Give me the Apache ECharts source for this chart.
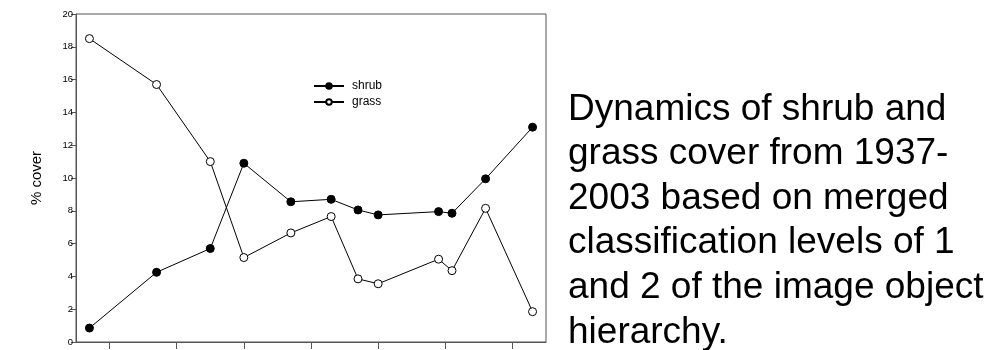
<!DOCTYPE html>
<html>
<head>
<meta charset="utf-8">
<script src="https://cdn.jsdelivr.net/npm/echarts@6/dist/echarts.min.js"></script>
<style>html,body{margin:0;padding:0;background:#fff;}#c{width:985px;height:350px;}</style>
</head>
<body>
<div id="c"></div>
<script>
const years = [1937, 1947, 1955, 1960, 1967, 1973, 1977, 1980, 1989, 1991, 1996, 2003];
const shrub = [0.85, 4.25, 5.7, 10.9, 8.55, 8.7, 8.05, 7.75, 7.95, 7.85, 9.95, 13.1];
const grass = [18.5, 15.7, 11.0, 5.15, 6.65, 7.65, 3.85, 3.55, 5.05, 4.35, 8.15, 1.85];
const xTicks = [1940, 1950, 1960, 1970, 1980, 1990, 2000];
const yTicks = [0, 2, 4, 6, 8, 10, 12, 14, 16, 18, 20];
const caption = ['Dynamics of shrub and', 'grass cover from 1937-', '2003 based on merged', 'classification levels of 1', 'and 2 of the image object', 'hierarchy.'];

const chart = echarts.init(document.getElementById('c'), null, {renderer: 'canvas'});
const font = '"Liberation Sans", Arial, sans-serif';
chart.setOption({
  animation: false,
  backgroundColor: '#fff',
  grid: {left: 76, right: 439, top: 14, bottom: 8, show: true, borderColor: '#555', borderWidth: 1},
  legend: {
    orient: 'vertical', left: 313, top: 80, padding: 0, itemWidth: 30, itemHeight: 7, itemGap: 4,
    textStyle: {fontFamily: font, fontSize: 12, color: '#000', padding: [0, 0, 0, 3]},
    data: ['shrub', 'grass']
  },
  xAxis: {
    type: 'value', min: 1935, max: 2005,
    axisLine: {lineStyle: {color: '#555', width: 1}},
    axisTick: {show: true, inside: false, length: 7, customValues: xTicks, lineStyle: {color: '#555'}},
    axisLabel: {show: false},
    splitLine: {show: false}
  },
  yAxis: {
    type: 'value', min: 0, max: 20, interval: 2,
    name: '% cover', nameLocation: 'middle', nameGap: 32,
    nameTextStyle: {fontFamily: font, fontSize: 15, color: '#000'},
    axisLine: {show: true, lineStyle: {color: '#555', width: 1}},
    axisTick: {show: true, inside: false, length: 5, lineStyle: {color: '#555'}},
    axisLabel: {fontFamily: font, fontSize: 9.5, color: '#000', margin: 3, customValues: yTicks},
    splitLine: {show: false}
  },
  graphic: [{
    type: 'text', left: 568, top: 87,
    style: {text: caption.join('\n'), font: '37px ' + font, fill: '#000', lineHeight: 44.6}
  }],
  series: [
    {
      name: 'shrub', type: 'line', data: years.map((y, i) => [y, shrub[i]]),
      symbol: 'circle', symbolSize: 8,
      lineStyle: {color: '#000', width: 1},
      itemStyle: {color: '#000', borderColor: '#000', borderWidth: 1}
    },
    {
      name: 'grass', type: 'line', data: years.map((y, i) => [y, grass[i]]),
      symbol: 'circle', symbolSize: 8,
      lineStyle: {color: '#000', width: 1},
      itemStyle: {color: '#fff', borderColor: '#000', borderWidth: 1}
    }
  ]
});
</script>
</body>
</html>
